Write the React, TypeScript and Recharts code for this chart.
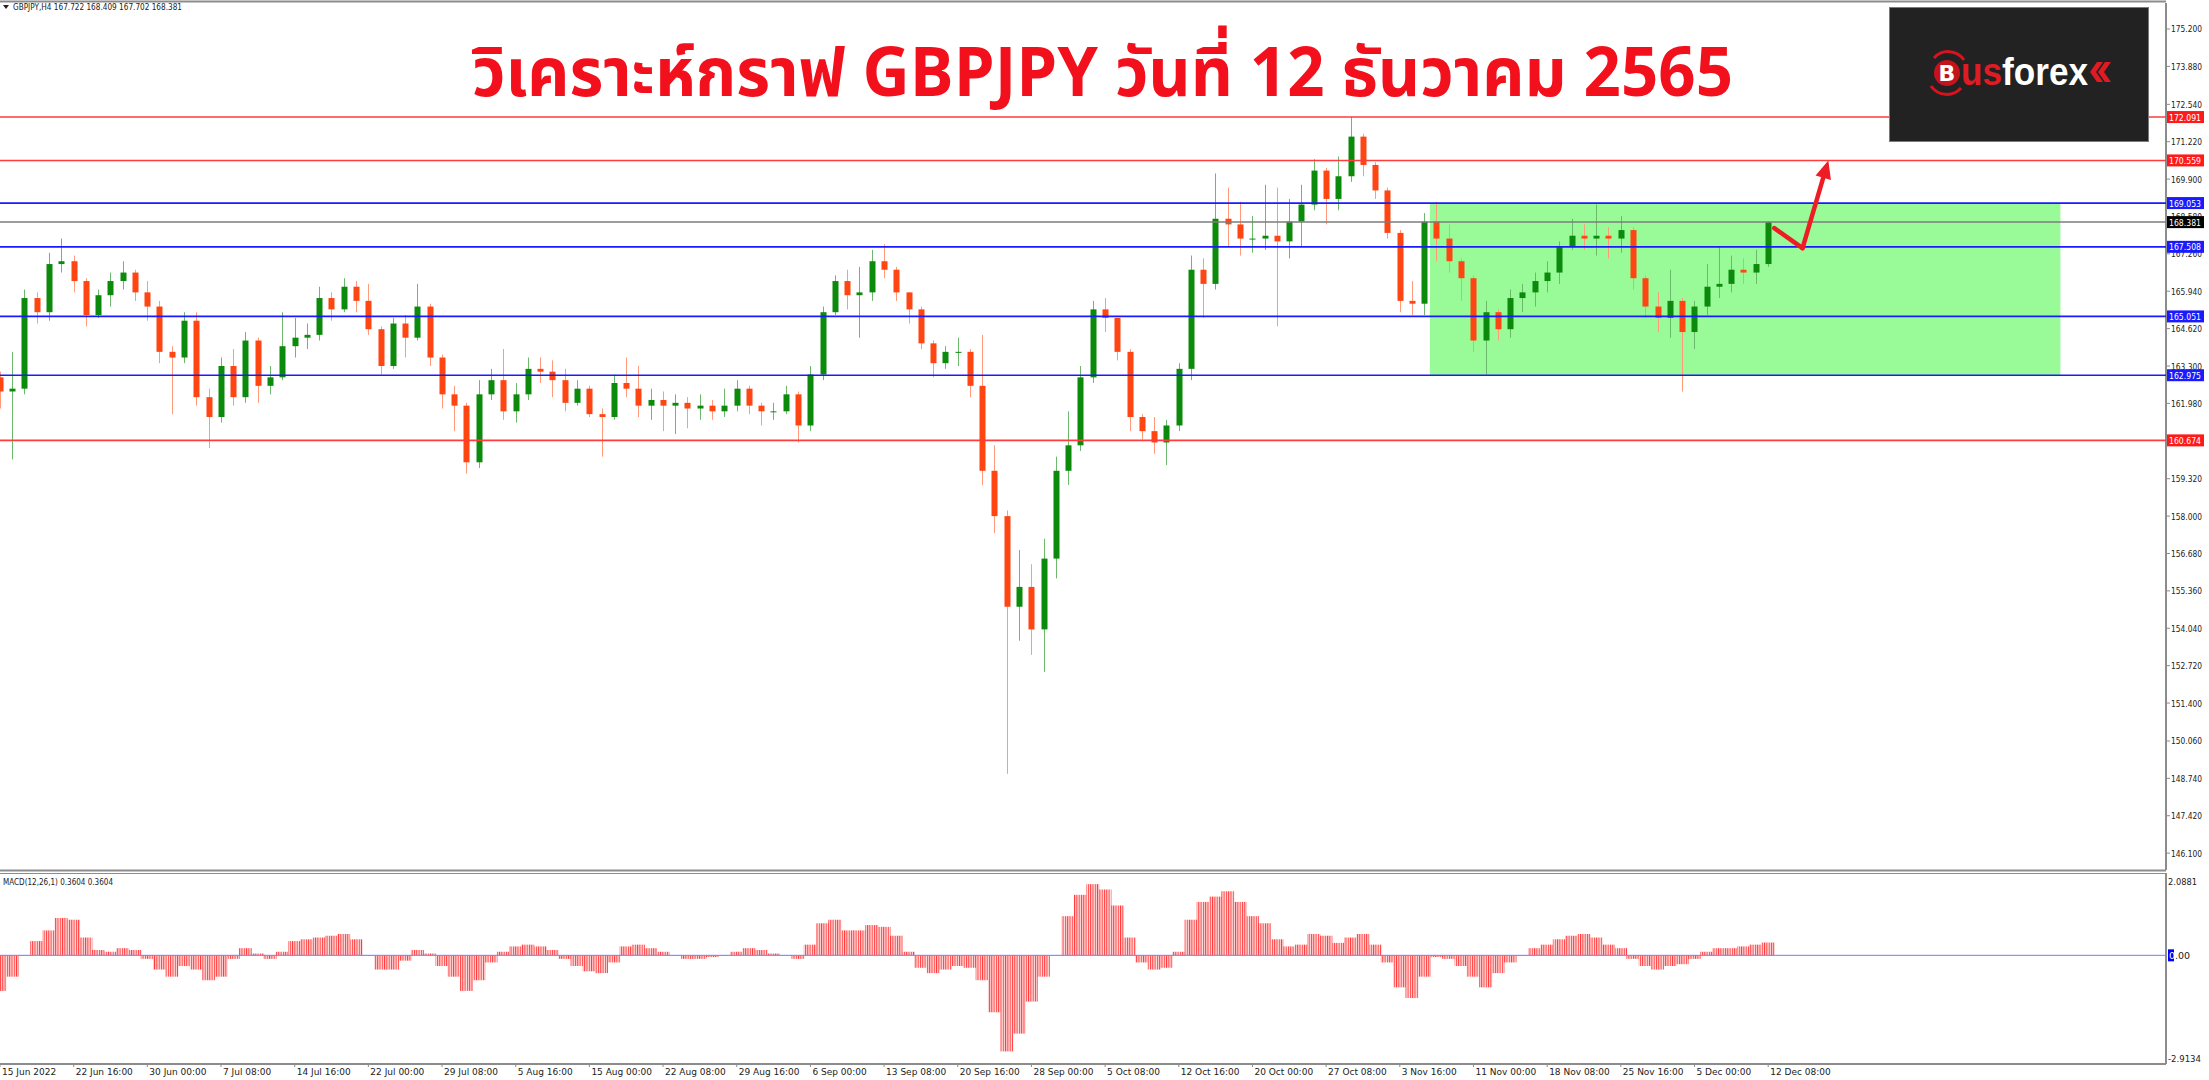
import React from 'react';
import {
  ComposedChart,
  Bar,
  XAxis,
  YAxis,
  ReferenceLine,
  ReferenceArea,
} from 'recharts';

// time axis labels (every 6th aggregated candle)
const timeLabels = [
  '15 Jun 2022', '22 Jun 16:00', '30 Jun 00:00', '7 Jul 08:00', '14 Jul 16:00',
  '22 Jul 00:00', '29 Jul 08:00', '5 Aug 16:00', '15 Aug 00:00', '22 Aug 08:00',
  '29 Aug 16:00', '6 Sep 00:00', '13 Sep 08:00', '20 Sep 16:00', '28 Sep 00:00',
  '5 Oct 08:00', '12 Oct 16:00', '20 Oct 00:00', '27 Oct 08:00', '3 Nov 16:00',
  '11 Nov 00:00', '18 Nov 08:00', '25 Nov 16:00', '5 Dec 00:00', '12 Dec 08:00',
];
const timeTicks = [
  0, 6, 12, 18, 24, 30, 36, 42, 48, 54, 60, 66, 72, 78, 84, 90, 96, 102, 108, 114,
  120, 126, 132, 138, 144,
];

// 160.660 sits under the 160.674 tag in the reference, so it is left out
const priceTicks = [
  175.2, 173.88, 172.54, 171.22, 169.9, 168.58, 167.26, 165.94, 164.62, 163.3,
  161.98, 159.32, 158.0, 156.68, 155.36, 154.04, 152.72, 151.4, 150.06,
  148.74, 147.42, 146.1,
];
const macdTicks = [2.0881, 0, -2.9134];

const opens = [
  162.9, 162.4, 162.5, 165.7, 165.2, 166.9, 167.0, 166.3, 165.1, 165.8,
  166.3, 166.6, 165.9, 165.4, 163.8, 163.6, 164.9, 162.2, 161.5, 163.3,
  162.2, 164.2, 162.6, 162.9, 164.0, 164.3, 164.4, 165.7, 165.3, 166.1,
  165.6, 164.6, 163.3, 164.8, 164.3, 165.4, 163.6, 162.3, 161.9, 159.9,
  162.3, 162.8, 161.7, 162.3, 163.2, 163.1, 162.8, 162.0, 162.5, 161.6,
  161.5, 162.7, 162.5, 161.9, 162.1, 161.9, 162.0, 161.8, 161.9, 161.7,
  161.9, 162.5, 161.9, 161.7, 161.7, 162.3, 161.2, 163.0, 165.2, 166.3,
  165.8, 165.9, 167.0, 166.7, 165.9, 165.3, 164.1, 163.4, 163.8, 163.8,
  162.6, 159.6, 158.0, 154.8, 155.5, 154.0, 156.5, 159.6, 160.5, 162.9,
  165.3, 165.0, 163.8, 161.5, 161.0, 160.6, 161.2, 163.2, 166.7, 166.2,
  168.5, 168.3, 167.8, 167.8, 167.9, 167.7, 168.4, 169.0, 170.2, 169.2,
  170.0, 171.4, 170.4, 169.5, 168.0, 165.6, 165.5, 168.4, 167.8, 167.0,
  166.4, 164.2, 165.2, 164.6, 165.7, 165.9, 166.3, 166.6, 167.5, 167.9,
  167.8, 167.9, 167.8, 168.1, 166.4, 165.4, 165.0, 165.6, 164.5, 165.4,
  166.1, 166.2, 166.7, 166.6, 166.9,
];
const highs = [
  163.1, 163.8, 166.0, 165.9, 167.3, 167.8, 167.2, 166.4, 166.0, 166.6,
  167.0, 166.7, 166.3, 165.6, 164.0, 165.2, 165.2, 162.5, 163.6, 163.9,
  164.5, 164.3, 163.3, 165.2, 165.0, 164.8, 166.1, 165.9, 166.4, 166.3,
  166.2, 164.7, 165.0, 165.1, 166.2, 165.5, 163.7, 162.6, 162.0, 162.8,
  163.2, 163.9, 162.7, 163.6, 163.6, 163.5, 163.2, 162.8, 162.6, 161.8,
  163.0, 163.6, 163.3, 162.5, 162.4, 162.3, 162.2, 162.3, 162.1, 162.5,
  162.8, 162.6, 162.0, 162.0, 162.6, 162.4, 163.3, 165.4, 166.5, 166.7,
  166.8, 167.4, 167.6, 166.8, 165.9, 165.4, 164.2, 164.0, 164.3, 163.9,
  164.4, 160.5, 158.2, 156.8, 156.3, 157.2, 160.1, 161.7, 163.3, 165.6,
  165.7, 165.0, 163.9, 161.6, 161.5, 161.4, 163.4, 167.2, 167.1, 170.1,
  169.6, 169.1, 168.6, 169.7, 169.6, 169.2, 169.7, 170.6, 170.3, 170.7,
  172.1, 171.5, 170.5, 169.6, 168.1, 166.3, 168.7, 169.1, 168.3, 167.1,
  166.5, 165.6, 165.3, 166.0, 166.2, 166.6, 167.0, 167.7, 168.5, 168.3,
  169.0, 168.2, 168.6, 168.2, 166.5, 165.9, 166.7, 165.7, 165.6, 166.9,
  167.5, 167.2, 167.1, 167.4, 168.409,
];
const lows = [
  161.8, 160.0, 162.3, 164.8, 164.9, 166.6, 165.9, 164.7, 165.0, 165.4,
  166.0, 165.6, 164.9, 163.4, 161.6, 163.4, 161.9, 160.4, 161.3, 161.9,
  162.0, 162.0, 162.3, 162.8, 163.6, 163.9, 164.2, 164.9, 165.2, 165.2,
  164.4, 163.0, 163.2, 163.6, 164.2, 163.3, 161.8, 161.0, 159.5, 159.7,
  162.1, 161.4, 161.3, 162.1, 162.7, 162.2, 161.7, 161.9, 161.5, 160.1,
  161.4, 162.2, 161.5, 161.4, 161.0, 160.9, 161.1, 161.4, 161.4, 161.5,
  161.7, 161.6, 161.2, 161.4, 161.6, 160.6, 161.0, 162.8, 165.1, 165.3,
  164.3, 165.6, 166.4, 165.6, 164.8, 163.9, 162.9, 163.2, 163.3, 162.2,
  159.1, 157.4, 148.9, 153.6, 153.1, 152.5, 155.8, 159.1, 160.3, 162.7,
  164.5, 163.5, 161.0, 160.7, 160.2, 159.8, 161.0, 162.8, 165.0, 166.0,
  167.5, 167.2, 167.3, 167.4, 164.7, 167.1, 167.5, 168.8, 168.3, 168.8,
  169.8, 170.0, 169.2, 167.8, 165.2, 165.1, 165.1, 167.0, 166.6, 165.6,
  163.8, 163.0, 164.2, 164.3, 165.2, 165.4, 165.9, 166.2, 167.4, 167.4,
  167.2, 167.1, 167.3, 166.0, 165.0, 164.5, 164.3, 162.4, 163.9, 165.1,
  165.7, 165.9, 166.2, 166.2, 166.8,
];
const closes = [
  162.4, 162.5, 165.7, 165.2, 166.9, 167.0, 166.3, 165.1, 165.8, 166.3,
  166.6, 165.9, 165.4, 163.8, 163.6, 164.9, 162.2, 161.5, 163.3, 162.2,
  164.2, 162.6, 162.9, 164.0, 164.3, 164.4, 165.7, 165.3, 166.1, 165.6,
  164.6, 163.3, 164.8, 164.3, 165.4, 163.6, 162.3, 161.9, 159.9, 162.3,
  162.8, 161.7, 162.3, 163.2, 163.1, 162.8, 162.0, 162.5, 161.6, 161.5,
  162.7, 162.5, 161.9, 162.1, 161.9, 162.0, 161.8, 161.9, 161.7, 161.9,
  162.5, 161.9, 161.7, 161.7, 162.3, 161.2, 163.0, 165.2, 166.3, 165.8,
  165.9, 167.0, 166.7, 165.9, 165.3, 164.1, 163.4, 163.8, 163.8, 162.6,
  159.6, 158.0, 154.8, 155.5, 154.0, 156.5, 159.6, 160.5, 162.9, 165.3,
  165.0, 163.8, 161.5, 161.0, 160.6, 161.2, 163.2, 166.7, 166.2, 168.5,
  168.3, 167.8, 167.8, 167.9, 167.7, 168.4, 169.0, 170.2, 169.2, 170.0,
  171.4, 170.4, 169.5, 168.0, 165.6, 165.5, 168.4, 167.8, 167.0, 166.4,
  164.2, 165.2, 164.6, 165.7, 165.9, 166.3, 166.6, 167.5, 167.9, 167.8,
  167.9, 167.8, 168.1, 166.4, 165.4, 165.0, 165.6, 164.5, 165.4, 166.1,
  166.2, 166.7, 166.6, 166.9, 168.381,
];
const macd = [
  -1.0, -0.6, 0.0, 0.4, 0.7, 1.05, 1.0, 0.5, 0.15, 0.1,
  0.2, 0.15, -0.1, -0.4, -0.6, -0.3, -0.4, -0.7, -0.6, -0.1,
  0.2, 0.05, -0.1, 0.1, 0.4, 0.45, 0.5, 0.55, 0.6, 0.45,
  0.0, -0.4, -0.4, -0.15, 0.15, 0.05, -0.3, -0.6, -1.0, -0.7,
  -0.2, 0.1, 0.25, 0.3, 0.25, 0.15, -0.1, -0.3, -0.45, -0.5,
  -0.2, 0.25, 0.3, 0.2, 0.1, 0.0, -0.1, -0.1, -0.05, 0.0,
  0.1, 0.2, 0.15, 0.05, 0.0, -0.1, 0.3, 0.9, 1.0, 0.7,
  0.7, 0.85, 0.8, 0.55, 0.1, -0.35, -0.5, -0.4, -0.3, -0.35,
  -0.7, -1.6, -2.7, -2.2, -1.3, -0.6, 0.0, 1.1, 1.7, 2.0,
  1.85, 1.4, 0.5, -0.2, -0.4, -0.35, 0.1, 1.0, 1.5, 1.65,
  1.8, 1.5, 1.1, 0.9, 0.45, 0.25, 0.3, 0.6, 0.55, 0.35,
  0.5, 0.6, 0.3, -0.2, -0.9, -1.2, -0.6, -0.05, -0.1, -0.3,
  -0.6, -0.9, -0.5, -0.2, 0.0, 0.2, 0.3, 0.45, 0.55, 0.6,
  0.5, 0.3, 0.2, -0.1, -0.3, -0.4, -0.3, -0.25, -0.1, 0.1,
  0.2, 0.2, 0.25, 0.3, 0.36,
];

const redLevels = [172.091, 170.559, 160.674];
const blueLevels = [169.053, 167.508, 165.051, 162.975];
const lastPrice = 168.381;

// range box (candle index / price) and forecast arrow path
const boxRange = { x1: 116.45, x2: 167.8, y1: 162.975, y2: 169.053 };
const arrowPath = [
  { x: 144.5, y: 168.17 },
  { x: 146.8, y: 167.46 },
  { x: 148.9, y: 170.56 },
];

const candles = opens.map((o, i) => ({
  i,
  o,
  h: highs[i],
  l: lows[i],
  c: closes[i],
  m: macd[i],
}));

const X_DOMAIN: [number, number] = [0, 176.4];
const PRICE_DOMAIN: [number, number] = [145.504, 176.118];
const AXIS_W = 43;
const FONT = "Tahoma, 'DejaVu Sans', 'Liberation Sans', sans-serif";

function Candle(props: any) {
  const { x, y, width, height, payload } = props;
  if (!payload || x == null || y == null) return null;
  const { o, h, l, c } = payload;
  const up = c >= o;
  const top0 = Math.min(y, y + height);
  const hh = Math.abs(height);
  const span = h - l || 1;
  const py = (p: number) => top0 + ((h - p) / span) * hh;
  const cx = Math.round(x + width / 2) + 0.5;
  const bt = py(Math.max(o, c));
  const bb = py(Math.min(o, c));
  const bw = 6;
  return (
    <g>
      <line x1={cx} x2={cx} y1={top0} y2={top0 + hh} stroke={up ? '#6cb86c' : '#ff9a7a'} strokeWidth={1} />
      <rect x={cx - bw / 2} y={bt} width={bw} height={Math.max(1, bb - bt)} fill={up ? '#0b8a0b' : '#ff4512'} />
    </g>
  );
}

// MACD histogram column, widened so neighbouring columns touch
function MacdBar(props: any) {
  const { x, y, width, height } = props;
  if (x == null || y == null) return null;
  const top = Math.min(y, y + height);
  const hh = Math.abs(height);
  const cx = x + width / 2;
  return <rect x={cx - 6.5} y={top} width={13} height={Math.max(hh, 0.5)} fill="url(#macdStripes)" />;
}

function PriceTag(props: any) {
  const { viewBox, text, bg } = props;
  if (!viewBox) return null;
  const x = viewBox.x + viewBox.width + 1;
  const y = viewBox.y;
  return (
    <g>
      <rect x={x} y={y - 6} width={37} height={12} fill={bg} />
      <text
        x={x + 2}
        y={y + 3.5}
        fontSize={9.5}
        fill="#fff"
        fontFamily={FONT}
        textLength={32}
        lengthAdjust="spacingAndGlyphs"
      >
        {text}
      </text>
    </g>
  );
}

function PriceTick(props: any) {
  const { x, y, payload } = props;
  return (
    <text
      x={x}
      y={y + 3.5}
      fontSize={9.5}
      fill="#222"
      fontFamily={FONT}
      textLength={31}
      lengthAdjust="spacingAndGlyphs"
    >
      {Number(payload.value).toFixed(3)}
    </text>
  );
}

function MacdTick(props: any) {
  const { x, y, payload } = props;
  const v = Number(payload.value);
  if (v === 0) {
    return (
      <g>
        <rect x={x - 3} y={y - 6} width={6} height={12} fill="#0000ff" />
        <text x={x - 2} y={y + 3.5} fontSize={9.5} fill="#222" fontFamily={FONT}>
          <tspan fill="#fff">0</tspan>.00
        </text>
      </g>
    );
  }
  return (
    <text
      x={x - 3}
      y={y + 3.5}
      fontSize={9.5}
      fill="#222"
      fontFamily={FONT}
      textLength={v < 0 ? 33 : 29}
      lengthAdjust="spacingAndGlyphs"
    >
      {v.toFixed(4)}
    </text>
  );
}

function TimeTick(props: any) {
  const { x, y, payload } = props;
  const k = timeTicks.indexOf(payload.value);
  return (
    <text x={x + 2} y={y + 7} fontSize={9} fill="#222" fontFamily={FONT}>
      {timeLabels[k]}
    </text>
  );
}

function ArrowSeg(props: any) {
  const { x1, y1, x2, y2, head } = props;
  if (x1 == null) return null;
  const ang = Math.atan2(y2 - y1, x2 - x1);
  const hl = 18;
  const hw = 8;
  const bx = x2 - hl * Math.cos(ang);
  const by = y2 - hl * Math.sin(ang);
  const nx = -Math.sin(ang);
  const ny = Math.cos(ang);
  return (
    <g>
      <line
        x1={x1}
        y1={y1}
        x2={head ? bx : x2}
        y2={head ? by : y2}
        stroke="#ee1c25"
        strokeWidth={4.5}
        strokeLinecap="round"
      />
      {head && (
        <polygon
          points={`${x2},${y2} ${bx + nx * hw},${by + ny * hw} ${bx - nx * hw},${by - ny * hw}`}
          fill="#ee1c25"
        />
      )}
    </g>
  );
}

function Overlay() {
  return (
    <svg
      width={2209}
      height={1080}
      style={{ position: 'absolute', left: 0, top: 0, pointerEvents: 'none' }}
    >
      {/* frame */}
      <line x1={0} x2={2166} y1={1.5} y2={1.5} stroke="#8c8c8c" strokeWidth={2} />
      <line x1={0} x2={2166} y1={870.5} y2={870.5} stroke="#8c8c8c" strokeWidth={2} />
      <line x1={0} x2={2166} y1={873.5} y2={873.5} stroke="#8c8c8c" strokeWidth={1} />
      {/* headers */}
      <polygon points="3,5 9,5 6,9" fill="#222" />
      <text x={13} y={10} fontSize={9.5} fill="#222" fontFamily={FONT} textLength={169} lengthAdjust="spacingAndGlyphs">
        GBPJPY,H4  167.722 168.409 167.702 168.381
      </text>
      <text x={3} y={885} fontSize={9.5} fill="#222" fontFamily={FONT} textLength={110} lengthAdjust="spacingAndGlyphs">
        MACD(12,26,1) 0.3604 0.3604
      </text>
      {/* title */}
      <text
        x={472}
        y={96}
        fontSize={68}
        fontWeight={700}
        fill="#f2101c"
        fontFamily="'Noto Sans Thai', 'Noto Sans', 'DejaVu Sans', sans-serif"
        textLength={1261}
        lengthAdjust="spacingAndGlyphs"
      >
        วิเคราะห์กราฟ GBPJPY วันที่ 12 ธันวาคม 2565
      </text>
      {/* logo */}
      <rect x={1889.5} y={7.5} width={259} height={134} fill="#222222" stroke="#7a7a7a" strokeWidth={1} />
      <path d="M 1934 58 A 19 19 0 0 1 1964 60" fill="none" stroke="#d7141e" strokeWidth={3} />
      <path d="M 1931 86 A 19 19 0 0 0 1961 88" fill="none" stroke="#d7141e" strokeWidth={3} />
      <circle cx={1947} cy={73} r={13} fill="#c4131c" />
      <text x={1947} y={81} fontSize={22} fontWeight={700} fill="#fff" textAnchor="middle" fontFamily="'DejaVu Sans', sans-serif">
        B
      </text>
      <text
        x={1961}
        y={85}
        fontSize={38}
        fontWeight={700}
        fontFamily="'Liberation Sans', 'DejaVu Sans', sans-serif"
        textLength={127}
        lengthAdjust="spacingAndGlyphs"
      >
        <tspan fill="#e01b24">us</tspan>
        <tspan fill="#ffffff">forex</tspan>
      </text>
      <polygon points="2097,62 2103,62 2096,72 2103,82 2097,82 2090,72" fill="#e01b24" />
      <polygon points="2105,62 2111,62 2104,72 2111,82 2105,82 2098,72" fill="#e01b24" />
    </svg>
  );
}

export default function App() {
  return (
    <div style={{ position: 'relative', width: 2209, height: 1080, background: '#fff', overflow: 'hidden' }}>
      <style>{'body{margin:0}'}</style>
      <svg width={0} height={0} style={{ position: 'absolute' }}>
        <defs>
          <pattern id="macdStripes" width={2.3} height={4} patternUnits="userSpaceOnUse">
            <rect x={0} y={0} width={2.3} height={4} fill="#ffdcdc" />
            <rect x={0} y={0} width={1} height={4} fill="#ff3b3b" />
          </pattern>
        </defs>
      </svg>

      {/* price panel: box, candles and price axis */}
      <div style={{ position: 'absolute', left: 0, top: 0 }}>
        <ComposedChart
          width={2209}
          height={870}
          data={candles}
          margin={{ top: 3, right: 0, bottom: 0, left: 0 }}
        >
          <XAxis dataKey="i" type="number" domain={X_DOMAIN} allowDataOverflow hide />
          <YAxis
            orientation="right"
            width={AXIS_W}
            type="number"
            domain={PRICE_DOMAIN}
            allowDataOverflow
            ticks={priceTicks}
            interval={0}
            tick={<PriceTick />}
            tickSize={4}
            tickMargin={1}
            axisLine={{ stroke: '#8c8c8c', strokeWidth: 2 }}
            tickLine={{ stroke: '#8c8c8c' }}
          />
          <ReferenceArea
            x1={boxRange.x1}
            x2={boxRange.x2}
            y1={boxRange.y1}
            y2={boxRange.y2}
            fill="#98fb98"
            fillOpacity={1}
            stroke="none"
          />
          <Bar
            dataKey={(d: any) => [d.l, d.h]}
            barSize={8}
            shape={<Candle />}
            isAnimationActive={false}
          />
        </ComposedChart>
      </div>

      {/* price panel, top layer: level lines, price tags, arrow */}
      <div style={{ position: 'absolute', left: 0, top: 0, pointerEvents: 'none' }}>
        <ComposedChart
          width={2209}
          height={870}
          data={candles}
          margin={{ top: 3, right: AXIS_W, bottom: 0, left: 0 }}
        >
          <XAxis dataKey="i" type="number" domain={X_DOMAIN} allowDataOverflow hide />
          <YAxis type="number" domain={PRICE_DOMAIN} allowDataOverflow hide />
          <ReferenceLine
            y={lastPrice}
            stroke="#7d7d7d"
            strokeWidth={1.5}
            label={<PriceTag text={lastPrice.toFixed(3)} bg="#000" />}
          />
          {redLevels.map((p) => (
            <ReferenceLine
              key={`r${p}`}
              y={p}
              stroke="#ff3b3b"
              strokeWidth={1.6}
              label={<PriceTag text={p.toFixed(3)} bg="#ff1a1a" />}
            />
          ))}
          {blueLevels.map((p) => (
            <ReferenceLine
              key={`b${p}`}
              y={p}
              stroke="#1a1aff"
              strokeWidth={1.6}
              label={<PriceTag text={p.toFixed(3)} bg="#1a1aff" />}
            />
          ))}
          <ReferenceLine
            segment={[arrowPath[0], arrowPath[1]]}
            shape={(p: any) => <ArrowSeg {...p} head={false} />}
          />
          <ReferenceLine
            segment={[arrowPath[1], arrowPath[2]]}
            shape={(p: any) => <ArrowSeg {...p} head />}
          />
        </ComposedChart>
      </div>

      {/* MACD panel */}
      <div style={{ position: 'absolute', left: 0, top: 873 }}>
        <ComposedChart
          width={2209}
          height={207}
          data={candles}
          margin={{ top: 0, right: 0, bottom: 0, left: 0 }}
        >
          <XAxis
            dataKey="i"
            type="number"
            domain={X_DOMAIN}
            allowDataOverflow
            ticks={timeTicks}
            interval={0}
            tick={<TimeTick />}
            height={16}
            tickSize={3}
            tickMargin={1}
            axisLine={{ stroke: '#8c8c8c', strokeWidth: 2 }}
            tickLine={{ stroke: '#8c8c8c' }}
          />
          <YAxis
            orientation="right"
            width={AXIS_W}
            type="number"
            domain={[-3.054, 2.313]}
            allowDataOverflow
            ticks={macdTicks}
            interval={0}
            tick={<MacdTick />}
            tickSize={4}
            tickMargin={1}
            axisLine={{ stroke: '#8c8c8c', strokeWidth: 2 }}
            tickLine={false}
          />
          <Bar dataKey="m" barSize={8} shape={<MacdBar />} isAnimationActive={false} />
          <ReferenceLine y={0} stroke="#7a7aff" strokeWidth={1} />
        </ComposedChart>
      </div>

      <Overlay />
    </div>
  );
}
